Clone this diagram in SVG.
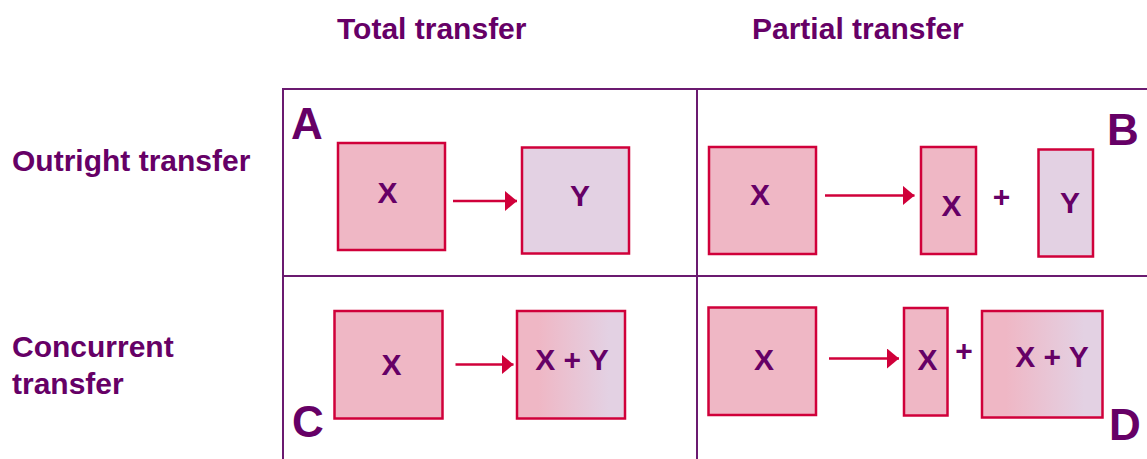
<svg xmlns="http://www.w3.org/2000/svg" width="1147" height="459" viewBox="0 0 1147 459">
<style>
.t{font-family:"Liberation Sans",Arial,sans-serif;font-weight:bold;fill:#660066}
.h{font-size:30px}
.l{font-size:44px}
.bx{font-size:30px;text-anchor:middle}
.g{stroke:#6b1a70;stroke-width:2;fill:none}
.p{fill:#efb7c5;stroke:#d0003a;stroke-width:2.5}
.v{fill:#e3d1e3;stroke:#d0003a;stroke-width:2.5}
.m{fill:url(#grad);stroke:#d0003a;stroke-width:2.5}
.a{stroke:#d0003a;stroke-width:2.5;fill:none;marker-end:url(#ah)}
</style>
<defs>
<linearGradient id="grad" x1="0" y1="0" x2="1" y2="0">
<stop offset="0.2" stop-color="#efb7c5"/>
<stop offset="0.85" stop-color="#e3d1e3"/>
</linearGradient>
<marker id="ah" markerUnits="userSpaceOnUse" markerWidth="13" markerHeight="20" refX="12" refY="10" orient="auto">
<path d="M0,0 L12,10 L0,20 Z" fill="#d0003a"/>
</marker>
</defs>
<rect width="1147" height="459" fill="#ffffff"/>
<g id="headers">
<text class="t h" x="337" y="39">Total transfer</text>
<text class="t h" x="752" y="39">Partial transfer</text>
<text class="t h" x="12" y="171">Outright transfer</text>
<text class="t h" x="12" y="357">Concurrent</text>
<text class="t h" x="12" y="394">transfer</text>
</g>
<g id="grid">
<path class="g" d="M1147,89 H283 V459 M697,89 V459 M283,276 H1147"/>
</g>
<g id="quadrant-labels">
<text class="t l" x="291" y="139">A</text>
<text class="t l" x="1107" y="145">B</text>
<text class="t l" x="292" y="437">C</text>
<text class="t l" x="1109" y="440">D</text>
</g>
<g id="A-X"><rect class="p" x="338" y="143" width="107" height="107"/><text class="t bx" x="387.5" y="203">X</text></g>
<g id="A-Y"><rect class="v" x="522" y="147.5" width="107" height="106"/><text class="t bx" x="580" y="206">Y</text></g>
<g id="B-X"><rect class="p" x="709" y="147" width="107" height="107"/><text class="t bx" x="760" y="205">X</text></g>
<g id="B-X2"><rect class="p" x="921" y="147" width="55" height="107"/><text class="t bx" x="951.5" y="216">X</text></g>
<g id="B-plus"><text class="t bx" x="1001.5" y="207">+</text></g>
<g id="B-Y"><rect class="v" x="1038.5" y="149.5" width="54.5" height="107"/><text class="t bx" x="1070" y="212.5">Y</text></g>
<g id="C-X"><rect class="p" x="334.5" y="311" width="108" height="107.5"/><text class="t bx" x="391.5" y="375">X</text></g>
<g id="C-XY"><rect class="m" x="517" y="311" width="108" height="107.5"/><text class="t bx" x="572" y="370">X + Y</text></g>
<g id="D-X"><rect class="p" x="708.5" y="307.5" width="107.5" height="107.5"/><text class="t bx" x="764" y="370">X</text></g>
<g id="D-X2"><rect class="p" x="904" y="308" width="43.5" height="107.5"/><text class="t bx" x="927.5" y="370">X</text></g>
<g id="D-plus"><text class="t bx" x="964" y="361">+</text></g>
<g id="D-XY"><rect class="m" x="982" y="311" width="120.5" height="106.5"/><text class="t bx" x="1052" y="366.5">X + Y</text></g>
<g id="connectors">
<line class="a" x1="453" y1="201" x2="517" y2="201"/>
<line class="a" x1="825" y1="195.5" x2="914.5" y2="195.5"/>
<line class="a" x1="455.5" y1="364.5" x2="513.5" y2="364.5"/>
<line class="a" x1="829" y1="358.5" x2="899" y2="358.5"/>
</g>
</svg>
